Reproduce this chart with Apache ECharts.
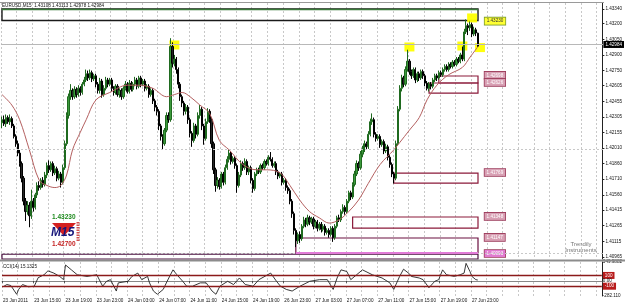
<!DOCTYPE html>
<html><head><meta charset="utf-8">
<script src="https://cdn.jsdelivr.net/npm/echarts@6/dist/echarts.min.js"></script>
<style>html,body{margin:0;padding:0;background:#fff}#c{width:625px;height:306px}</style>
</head><body><div id="c"></div>
<script>
const headerText = 'EURUSD,M15  1.43108 1.43113 1.42978 1.42984';
const lastPrice = 1.42984;
const timeLabels = ['23 Jun 2011','23 Jun 15:00','23 Jun 19:00','23 Jun 23:00','24 Jun 03:00','24 Jun 07:00','24 Jun 11:00','24 Jun 15:00','24 Jun 19:00','26 Jun 23:00','27 Jun 03:00','27 Jun 07:00','27 Jun 11:00','27 Jun 15:00','27 Jun 19:00','27 Jun 23:00'];
const priceTicks = [1.43340,1.43200,1.43050,1.42900,1.42750,1.42605,1.42455,1.42305,1.42155,1.42010,1.41860,1.41710,1.41560,1.41415,1.41265,1.41115,1.40965];
const cciTicks = [349.9882, 100, 0, -100, -282.110];
const cciTickText = ['349.9882','100','0.00','-100','-282.110'];
const cciLevels = [100, -100];
const cciName = 'CCI(14) 15.1325';
// [open, close, low, high]
const candles = [
[1.4225,1.4228,1.4220,1.4231],[1.4228,1.4224,1.4222,1.4232],[1.4224,1.4230,1.4221,1.4233],[1.4230,1.4226,1.4224,1.4232],[1.4226,1.4229,1.4223,1.4233],
[1.4229,1.4222,1.4220,1.4231],[1.4222,1.4212,1.4210,1.4224],[1.4212,1.4205,1.4202,1.4214],[1.4205,1.4196,1.4193,1.4208],[1.4196,1.4186,1.4183,1.4199],
[1.4186,1.4172,1.4168,1.4188],[1.4172,1.4150,1.4146,1.4174],[1.4150,1.4140,1.4131,1.4153],[1.4140,1.4146,1.4137,1.4150],[1.4146,1.4136,1.4125,1.4149],
[1.4136,1.4150,1.4133,1.4161],[1.4150,1.4144,1.4140,1.4153],[1.4144,1.4156,1.4142,1.4158],[1.4156,1.4165,1.4153,1.4168],[1.4165,1.4163,1.4160,1.4169],
[1.4163,1.4170,1.4161,1.4172],[1.4170,1.4166,1.4163,1.4173],[1.4166,1.4175,1.4164,1.4178],[1.4175,1.4184,1.4172,1.4187],[1.4184,1.4180,1.4177,1.4189],
[1.4180,1.4186,1.4178,1.4188],[1.4186,1.4177,1.4174,1.4188],[1.4177,1.4181,1.4175,1.4184],[1.4181,1.4172,1.4169,1.4183],[1.4172,1.4176,1.4170,1.4179],
[1.4176,1.4168,1.4163,1.4178],[1.4168,1.4182,1.4166,1.4185],[1.4182,1.4205,1.4180,1.4208],[1.4205,1.4232,1.4203,1.4235],[1.4232,1.4250,1.4229,1.4253],
[1.4250,1.4256,1.4247,1.4262],[1.4256,1.4250,1.4247,1.4258],[1.4250,1.4257,1.4248,1.4260],[1.4257,1.4252,1.4249,1.4259],[1.4252,1.4258,1.4250,1.4261],
[1.4258,1.4254,1.4251,1.4260],[1.4254,1.4262,1.4252,1.4264],[1.4262,1.4266,1.4260,1.4269],[1.4266,1.4272,1.4264,1.4276],[1.4272,1.4268,1.4265,1.4275],
[1.4268,1.4273,1.4266,1.4276],[1.4273,1.4267,1.4264,1.4275],[1.4267,1.4270,1.4265,1.4272],[1.4270,1.4262,1.4259,1.4272],[1.4262,1.4256,1.4253,1.4264],
[1.4256,1.4265,1.4253,1.4268],[1.4265,1.4252,1.4249,1.4267],[1.4252,1.4258,1.4250,1.4261],[1.4258,1.4266,1.4256,1.4269],[1.4266,1.4262,1.4259,1.4268],
[1.4262,1.4266,1.4260,1.4268],[1.4266,1.4258,1.4255,1.4268],[1.4258,1.4254,1.4251,1.4260],[1.4254,1.4260,1.4252,1.4262],[1.4260,1.4252,1.4250,1.4262],
[1.4252,1.4256,1.4249,1.4258],[1.4256,1.4250,1.4247,1.4258],[1.4250,1.4258,1.4248,1.4260],[1.4258,1.4262,1.4256,1.4265],[1.4262,1.4255,1.4253,1.4264],
[1.4255,1.4263,1.4253,1.4266],[1.4263,1.4257,1.4255,1.4265],[1.4257,1.4262,1.4255,1.4264],[1.4262,1.4266,1.4260,1.4269],[1.4266,1.4260,1.4257,1.4268],
[1.4260,1.4268,1.4258,1.4270],[1.4268,1.4262,1.4259,1.4270],[1.4262,1.4265,1.4260,1.4267],[1.4265,1.4258,1.4255,1.4267],[1.4258,1.4260,1.4256,1.4262],
[1.4260,1.4252,1.4249,1.4262],[1.4252,1.4256,1.4250,1.4258],[1.4256,1.4246,1.4243,1.4258],[1.4246,1.4240,1.4236,1.4248],[1.4240,1.4236,1.4232,1.4242],
[1.4236,1.4222,1.4218,1.4238],[1.4222,1.4212,1.4208,1.4224],[1.4212,1.4205,1.4199,1.4214],[1.4205,1.4218,1.4203,1.4220],[1.4218,1.4232,1.4216,1.4235],
[1.4232,1.4228,1.4225,1.4235],[1.4228,1.4298,1.4226,1.4306],[1.4298,1.4282,1.4278,1.4302],[1.4282,1.4286,1.4279,1.4290],[1.4286,1.4276,1.4272,1.4288],
[1.4276,1.4262,1.4258,1.4278],[1.4262,1.4250,1.4246,1.4264],[1.4250,1.4244,1.4240,1.4252],[1.4244,1.4236,1.4232,1.4246],[1.4236,1.4240,1.4233,1.4243],
[1.4240,1.4228,1.4224,1.4242],[1.4228,1.4215,1.4211,1.4230],[1.4215,1.4208,1.4202,1.4217],[1.4208,1.4222,1.4206,1.4225],[1.4222,1.4214,1.4210,1.4224],
[1.4214,1.4232,1.4212,1.4235],[1.4232,1.4238,1.4229,1.4242],[1.4238,1.4222,1.4218,1.4240],[1.4222,1.4210,1.4204,1.4224],[1.4210,1.4226,1.4208,1.4229],
[1.4226,1.4236,1.4224,1.4239],[1.4236,1.4228,1.4225,1.4238],[1.4228,1.4205,1.4201,1.4230],[1.4205,1.4180,1.4176,1.4207],[1.4180,1.4165,1.4159,1.4182],
[1.4165,1.4170,1.4162,1.4173],[1.4170,1.4164,1.4161,1.4172],[1.4164,1.4176,1.4162,1.4178],[1.4176,1.4168,1.4165,1.4178],[1.4168,1.4182,1.4166,1.4185],
[1.4182,1.4190,1.4180,1.4193],[1.4190,1.4196,1.4187,1.4199],[1.4196,1.4188,1.4185,1.4198],[1.4188,1.4191,1.4186,1.4193],[1.4191,1.4184,1.4181,1.4193],
[1.4184,1.4165,1.4158,1.4186],[1.4165,1.4175,1.4163,1.4178],[1.4175,1.4186,1.4173,1.4189],[1.4186,1.4182,1.4179,1.4188],[1.4182,1.4188,1.4180,1.4191],
[1.4188,1.4178,1.4175,1.4190],[1.4178,1.4182,1.4175,1.4184],[1.4182,1.4170,1.4167,1.4184],[1.4170,1.4162,1.4158,1.4172],[1.4162,1.4176,1.4160,1.4178],
[1.4176,1.4180,1.4174,1.4182],[1.4180,1.4178,1.4176,1.4182],[1.4178,1.4184,1.4176,1.4186],[1.4184,1.4182,1.4180,1.4186],[1.4182,1.4188,1.4180,1.4190],
[1.4188,1.4186,1.4184,1.4190],[1.4186,1.4192,1.4184,1.4194],[1.4192,1.4190,1.4188,1.4197],[1.4190,1.4184,1.4182,1.4192],[1.4184,1.4186,1.4182,1.4188],
[1.4186,1.4178,1.4175,1.4188],[1.4178,1.4174,1.4171,1.4180],[1.4174,1.4176,1.4172,1.4178],[1.4176,1.4168,1.4165,1.4178],[1.4168,1.4170,1.4166,1.4172],
[1.4170,1.4163,1.4160,1.4172],[1.4163,1.4160,1.4157,1.4165],[1.4160,1.4150,1.4147,1.4162],[1.4150,1.4138,1.4134,1.4152],[1.4138,1.4122,1.4118,1.4140],
[1.4122,1.4112,1.4106,1.4124],[1.4112,1.4118,1.4109,1.4120],[1.4118,1.4114,1.4110,1.4121],[1.4114,1.4126,1.4112,1.4128],[1.4126,1.4132,1.4124,1.4135],
[1.4132,1.4128,1.4125,1.4134],[1.4128,1.4134,1.4126,1.4137],[1.4134,1.4130,1.4127,1.4136],[1.4130,1.4133,1.4128,1.4135],[1.4133,1.4126,1.4123,1.4135],
[1.4126,1.4130,1.4124,1.4132],[1.4130,1.4124,1.4121,1.4132],[1.4124,1.4128,1.4122,1.4130],[1.4128,1.4123,1.4120,1.4130],[1.4123,1.4126,1.4121,1.4128],
[1.4126,1.4120,1.4117,1.4128],[1.4120,1.4122,1.4118,1.4124],[1.4122,1.4118,1.4115,1.4124],[1.4118,1.4124,1.4116,1.4126],[1.4124,1.4115,1.4111,1.4126],
[1.4115,1.4126,1.4113,1.4128],[1.4126,1.4134,1.4124,1.4136],[1.4134,1.4132,1.4130,1.4137],[1.4132,1.4140,1.4130,1.4142],[1.4140,1.4144,1.4138,1.4147],
[1.4144,1.4140,1.4137,1.4146],[1.4140,1.4150,1.4138,1.4152],[1.4150,1.4158,1.4148,1.4160],[1.4158,1.4154,1.4151,1.4160],[1.4154,1.4166,1.4152,1.4168],
[1.4166,1.4176,1.4164,1.4179],[1.4176,1.4186,1.4174,1.4189],[1.4186,1.4182,1.4179,1.4188],[1.4182,1.4195,1.4180,1.4198],[1.4195,1.4200,1.4192,1.4203],
[1.4200,1.4205,1.4197,1.4208],[1.4205,1.4202,1.4199,1.4207],[1.4202,1.4214,1.4200,1.4217],[1.4214,1.4226,1.4212,1.4229],[1.4226,1.4228,1.4223,1.4234],
[1.4228,1.4214,1.4211,1.4230],[1.4214,1.4210,1.4207,1.4216],[1.4210,1.4212,1.4208,1.4214],[1.4212,1.4204,1.4201,1.4214],[1.4204,1.4207,1.4202,1.4209],
[1.4207,1.4198,1.4195,1.4209],[1.4198,1.4202,1.4196,1.4205],[1.4202,1.4192,1.4189,1.4204],[1.4192,1.4185,1.4182,1.4194],[1.4185,1.4176,1.4173,1.4187],
[1.4176,1.4172,1.4167,1.4178],[1.4172,1.4205,1.4170,1.4208],[1.4205,1.4238,1.4203,1.4241],[1.4238,1.4258,1.4236,1.4261],[1.4258,1.4268,1.4255,1.4271],
[1.4268,1.4262,1.4259,1.4270],[1.4262,1.4276,1.4260,1.4279],[1.4276,1.4284,1.4274,1.4295],[1.4284,1.4274,1.4271,1.4286],[1.4274,1.4270,1.4267,1.4276],
[1.4270,1.4276,1.4268,1.4278],[1.4276,1.4266,1.4263,1.4278],[1.4266,1.4272,1.4264,1.4274],[1.4272,1.4268,1.4265,1.4274],[1.4268,1.4274,1.4266,1.4276],
[1.4274,1.4270,1.4267,1.4276],[1.4270,1.4263,1.4260,1.4272],[1.4263,1.4258,1.4256,1.4265],[1.4258,1.4262,1.4255,1.4264],[1.4262,1.4260,1.4257,1.4264],
[1.4260,1.4266,1.4258,1.4268],[1.4266,1.4270,1.4264,1.4272],[1.4270,1.4268,1.4265,1.4272],[1.4268,1.4273,1.4266,1.4275],[1.4273,1.4271,1.4269,1.4275],
[1.4271,1.4276,1.4269,1.4278],[1.4276,1.4279,1.4274,1.4281],[1.4279,1.4276,1.4274,1.4281],[1.4276,1.4281,1.4274,1.4283],[1.4281,1.4279,1.4277,1.4283],
[1.4279,1.4283,1.4277,1.4285],[1.4283,1.4281,1.4279,1.4285],[1.4281,1.4286,1.4279,1.4288],[1.4286,1.4284,1.4282,1.4288],[1.4284,1.4290,1.4282,1.4292],
[1.4290,1.4286,1.4284,1.4298],[1.4286,1.4312,1.4284,1.4315],[1.4312,1.4318,1.4310,1.4324],[1.4318,1.4316,1.4309,1.4320],[1.4316,1.4319,1.4313,1.4322],
[1.4319,1.4310,1.4307,1.4321],[1.4310,1.4314,1.4308,1.4317],[1.4314,1.4311,1.4308,1.4316],[1.43108,1.42984,1.42978,1.43113]
];
const maLine = [[0,1.4252],[5,1.4242],[9,1.4228],[14,1.4199],[19,1.4170],[23,1.4165],[27,1.4163],[30,1.4165],[33,1.4175],[36,1.4199],[40,1.4216],[43,1.4228],[48,1.4247],[55,1.4254],[64,1.4261],[70,1.4261],[77,1.4258],[84,1.4250],[88,1.4252],[92,1.4254],[96,1.4250],[101,1.4242],[106,1.4234],[111,1.4208],[116,1.4199],[123,1.4185],[130,1.4180],[135,1.4180],[142,1.4177],[147,1.4165],[152,1.4151],[157,1.4140],[162,1.4134],[167,1.4129],[172,1.4132],[177,1.4140],[182,1.4151],[187,1.4167],[193,1.4185],[200,1.4199],[203,1.4206],[208,1.4218],[213,1.4230],[217,1.4247],[222,1.4261],[228,1.4271],[235,1.4278],[239,1.4288],[243,1.4298]];
const cciLine = [[0,-111],[2,-69],[4,-87],[7,-250],[8,-160],[10,-69],[13,-111],[16,-100],[18,58],[21,113],[23,185],[26,144],[29,82],[31,22],[32,295],[35,204],[38,113],[43,82],[48,113],[51,-100],[53,-9],[55,22],[58,-190],[59,-38],[64,-9],[66,82],[69,144],[71,22],[74,82],[75,-38],[77,-190],[79,-250],[82,-160],[84,-9],[87,204],[89,113],[92,-9],[94,-100],[97,-100],[101,-38],[104,-38],[107,-190],[109,-250],[111,-100],[115,-9],[118,-69],[121,53],[124,-69],[128,-100],[131,22],[137,144],[140,-9],[142,-100],[145,-160],[148,-190],[152,-100],[157,-9],[162,22],[166,22],[168,-100],[169,-160],[171,53],[173,204],[176,173],[178,22],[181,113],[184,204],[189,113],[194,53],[198,-38],[200,-160],[203,82],[205,216],[208,131],[209,82],[213,53],[215,22],[218,-129],[221,-9],[223,22],[225,204],[227,113],[231,82],[234,113],[236,144],[237,325],[239,173],[240,82],[242,22],[243,15.13]];
const zoneStart  = [0, 223, 218, 200, 179, 150, 0];
const zoneEnd    = [243, 243, 243, 243, 243, 243, 243];
const zoneTop    = [1.43340, 1.42698, 1.42631, 1.41769, 1.41348, 1.41147, 1.40993];
const zoneBottom = [1.43230, 1.42631, 1.42535, 1.41673, 1.41242, 1.41003, 1.40946];
const zoneLabels = ['1.43230','1.42698','1.42626','1.41769','1.41348','1.41147','1.40993'];
const markerIdx   = [88, 208, 235, 244, 240];
const markerPrice = [1.42995, 1.42976, 1.42985, 1.42970, 1.43254];
const logoHigh = '1.43230', logoLow = '1.42700', logoTf = 'M15';
const watermark = ['Trendily', 'Instruments'];

const slotCount = 307;
const categories = Array.from({length: slotCount}, (_, i) => String(i));
const F = '"Liberation Sans", Arial, sans-serif';
const zoneColor = ['#1a1a1a','#8b1a3a','#8b1a3a','#8b1a3a','#8b1a3a','#6b1040','#4a1040'];
const labelBg = ['#ffff33','#d8a0b4','#d8a0b4','#d8a0b4','#d8a0b4','#d8a0b4','#e07ad0'];
const labelFg = ['#333','#fff','#fff','#fff','#fff','#fff','#fff'];

const chart = echarts.init(document.getElementById('c'), null, {renderer: 'canvas'});
const gridSplit = {show: true, interval: (i) => i % 8 === 0, lineStyle: {color: '#c8c8c8', type: [2, 2], width: 1}};
const option = {
  animation: false,
  backgroundColor: '#ffffff',
  textStyle: {fontFamily: F},
  grid: [
    {left: 1, top: 3, width: 603, height: 256},
    {left: 1, top: 262, width: 603, height: 34}
  ],
  xAxis: [
    {type: 'category', gridIndex: 0, data: categories, boundaryGap: true,
     axisLine: {show: false}, axisTick: {show: false}, axisLabel: {show: false}, splitLine: gridSplit},
    {type: 'category', gridIndex: 1, data: categories, boundaryGap: true,
     axisLine: {show: true, lineStyle: {color: '#888', width: 1}},
     axisTick: {show: true, interval: (i) => i % 16 === 0 && i / 16 < timeLabels.length, length: 2, lineStyle: {color: '#444'}},
     axisLabel: {show: true, interval: (i) => i % 16 === 0 && i / 16 < timeLabels.length,
       formatter: (v, i) => timeLabels[Math.round(Number(v) / 16)] || '', fontSize: 4.6, color: '#111', align: 'left', margin: 2, fontFamily: F},
     splitLine: gridSplit}
  ],
  yAxis: [
    {type: 'value', gridIndex: 0, position: 'right', min: 1.40946, max: 1.43397,
     axisLine: {show: true, lineStyle: {color: '#222', width: 1}},
     axisTick: {show: true, customValues: priceTicks, length: 2, lineStyle: {color: '#222'}},
     axisLabel: {show: true, customValues: priceTicks, formatter: (v) => v.toFixed(5), fontSize: 4.6, color: '#111', margin: 3, fontFamily: F},
     splitLine: {show: false}},
    {type: 'value', gridIndex: 1, position: 'right', min: -282.11, max: 349.99,
     axisLine: {show: true, lineStyle: {color: '#222', width: 1}},
     axisTick: {show: false},
     axisLabel: {show: true, customValues: cciTicks, showMinLabel: true, showMaxLabel: true,
       formatter: (v) => {
         const k = cciTicks.findIndex(t => Math.abs(t - v) < 0.01);
         const s = k >= 0 ? cciTickText[k] : '';
         return (v === 100 || v === -100) ? '{r|' + s + '}' : s;
       },
       fontSize: 4.6, color: '#111', margin: 1, fontFamily: F,
       rich: {r: {backgroundColor: '#b81c1c', color: '#fff', fontSize: 4.6, padding: [1, 2], fontFamily: F}}},
     splitLine: {show: false}}
  ],
  series: [
    {name: 'grid', type: 'line', xAxisIndex: 0, yAxisIndex: 0, data: [], z: 1, silent: true,
     markLine: {silent: true, symbol: ['none', 'none'], animation: false,
       lineStyle: {color: '#c8c8c8', type: [2, 2], width: 1},
       label: {show: false},
       data: priceTicks.map(v => ({yAxis: v})).concat([{yAxis: lastPrice,
         lineStyle: {color: '#b8b8b8', type: 'solid', width: 1},
         label: {show: true, position: 'end', distance: 1, formatter: lastPrice.toFixed(5), backgroundColor: '#000', color: '#fff', fontSize: 4.6, padding: [1, 2], fontFamily: F}}])}},
    {name: 'markers', type: 'scatter', xAxisIndex: 0, yAxisIndex: 0, z: 2, silent: true,
     symbol: 'rect', symbolSize: [10, 9], itemStyle: {color: '#ffff00', opacity: 0.95},
     data: markerIdx.map((x, k) => [x, markerPrice[k]])},
    {name: 'EURUSD', type: 'candlestick', xAxisIndex: 0, yAxisIndex: 0, z: 3, data: candles,
     barWidth: 1.7,
     itemStyle: {color: '#3c9a3c', color0: '#262626', borderColor: '#1f6a1f', borderColor0: '#000', borderWidth: 1},
     markArea: {silent: true,
       data: zoneTop.map((t, k) => [
         {xAxis: zoneStart[k], yAxis: t,
          itemStyle: {color: 'rgba(0,0,0,0)', borderColor: zoneColor[k], borderWidth: k === 0 ? 1.4 : 1.2},
          label: {show: true, formatter: zoneLabels[k], position: k === 0 ? ['100%', '100%'] : ['100%', 0],
            offset: [6, 0], verticalAlign: 'middle', align: 'left', fontSize: 4.6, fontFamily: F,
            color: labelFg[k], backgroundColor: labelBg[k], borderColor: k === 0 ? '#7a9a30' : '#9b3a5a', borderWidth: 0.8, padding: [1, 2]}},
         {xAxis: zoneEnd[k], yAxis: zoneBottom[k]}])},
     markLine: {silent: true, symbol: ['none', 'none'], label: {show: false},
       data: [
         [{xAxis: zoneStart[0], yAxis: zoneTop[0], lineStyle: {color: '#3a7a3a', width: 1.4, type: 'solid'}}, {xAxis: zoneEnd[0], yAxis: zoneTop[0]}],
         [{xAxis: zoneStart[5], yAxis: zoneBottom[5], lineStyle: {color: '#e27ad8', width: 2, type: 'solid'}}, {xAxis: zoneEnd[5], yAxis: zoneBottom[5]}]
       ]}},
    {name: 'MA', type: 'line', xAxisIndex: 0, yAxisIndex: 0, z: 4, data: maLine, smooth: 0.35,
     showSymbol: false, lineStyle: {color: '#b46060', width: 1}, silent: true},
    {name: 'CCI', type: 'line', xAxisIndex: 1, yAxisIndex: 1, z: 4, data: cciLine, showSymbol: false,
     lineStyle: {color: '#222', width: 0.9}, silent: true,
     markLine: {silent: true, symbol: ['none', 'none'], label: {show: false},
       lineStyle: {color: '#8b1a1a', width: 1.4, type: 'solid'},
       data: cciLevels.map(v => ({yAxis: v}))}}
  ],
  graphic: [
    {type: 'rect', shape: {x: 0, y: 259.5, width: 625, height: 2}, style: {fill: '#8c8c8c'}, z: 100},
    {type: 'rect', shape: {x: 0, y: 2, width: 604, height: 1}, style: {fill: '#9a9a9a'}, z: 100},
    {type: 'text', x: 2, y: 5.5, style: {text: headerText, font: '4.6px ' + F, fill: '#111', verticalAlign: 'middle'}, z: 100},
    {type: 'text', x: 3, y: 266.5, style: {text: cciName, font: '4.6px ' + F, fill: '#111', verticalAlign: 'middle'}, z: 100},
    {type: 'text', x: 52, y: 217, style: {text: logoHigh, font: 'bold 6.5px ' + F, fill: '#1e8a1e', verticalAlign: 'middle'}, z: 100},
    {type: 'polygon', shape: {points: [[52, 223], [76, 223], [64, 236]]}, style: {fill: '#d42020'}, z: 100},
    {type: 'text', x: 51, y: 233, style: {text: logoTf, font: 'bold italic 12px ' + F, fill: '#16167a', verticalAlign: 'middle'}, z: 101},
    {type: 'text', x: 52, y: 244, style: {text: logoLow, font: 'bold 6.5px ' + F, fill: '#c42020', verticalAlign: 'middle'}, z: 100},
    {type: 'line', shape: {x1: 78, y1: 222, x2: 78, y2: 241}, style: {stroke: '#d05050', lineWidth: 3, lineDash: [1.5, 1]}, z: 100},
    {type: 'text', x: 581, y: 244, style: {text: watermark[0], font: '6px ' + F, fill: '#777', align: 'center', verticalAlign: 'middle'}, z: 100},
    {type: 'text', x: 581, y: 250.5, style: {text: watermark[1], font: '6px ' + F, fill: '#777', align: 'center', verticalAlign: 'middle'}, z: 100}
  ]
};
chart.setOption(option);
</script>
</body></html>
